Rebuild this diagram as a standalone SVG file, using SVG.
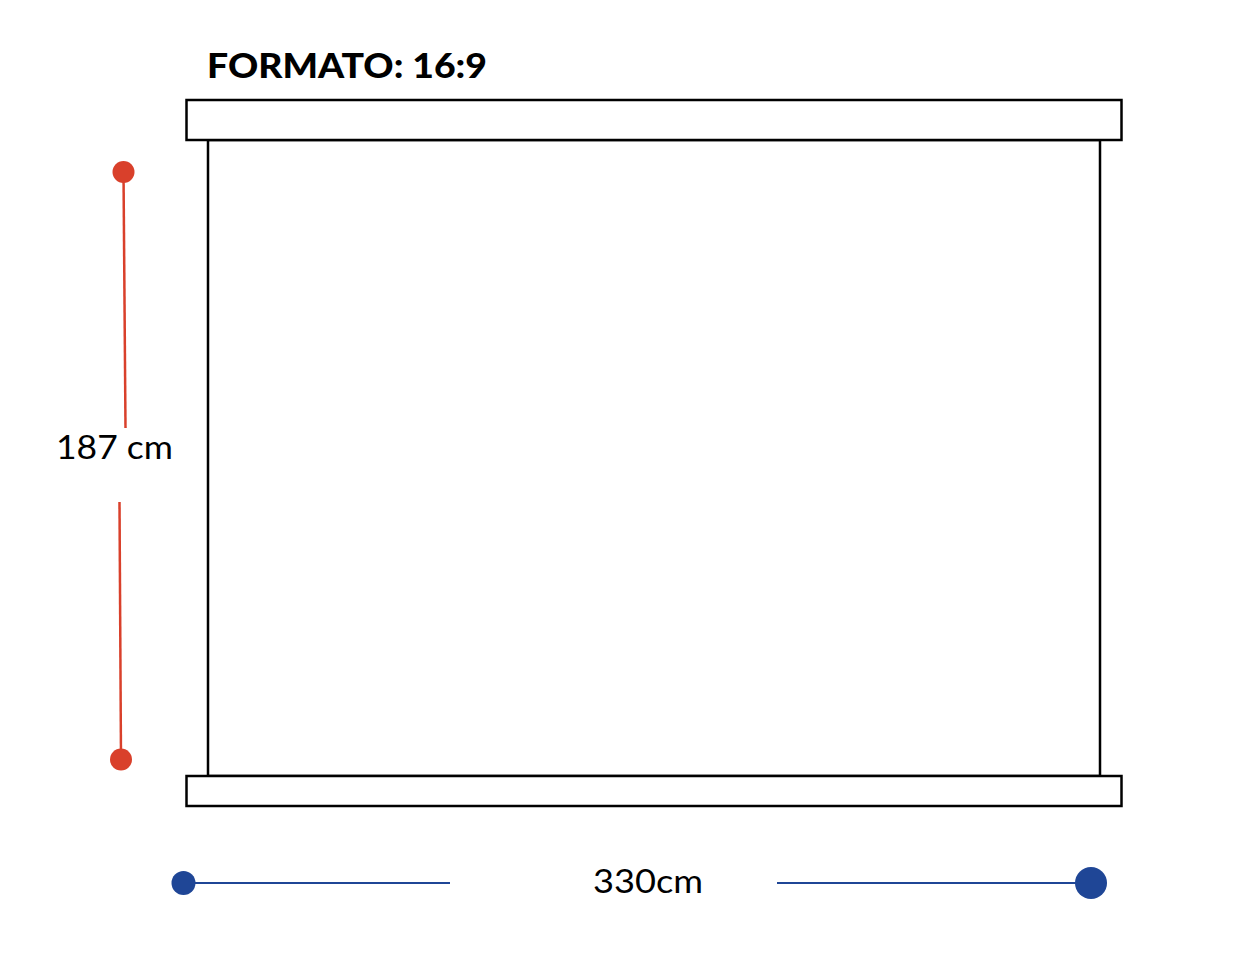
<svg xmlns="http://www.w3.org/2000/svg" width="1242" height="964" viewBox="0 0 1242 964">
<style>
.frame{fill:#fff;stroke:#000;stroke-width:2.5}
.red{stroke:#d9402b;stroke-width:2.5;fill:none}
.blue{stroke:#1f4696;stroke-width:2;fill:none}
.lbl{font-family:Lato,"Liberation Sans",sans-serif;font-size:33px;fill:#000}
.title{font-family:Lato,"Liberation Sans",sans-serif;font-size:34px;font-weight:900;fill:#000}
</style>
<rect width="1242" height="964" fill="#fff"/>
<g id="title"><text class="title" x="207" y="78" textLength="280" lengthAdjust="spacingAndGlyphs">FORMATO: 16:9</text></g>
<g id="screen">
<rect class="frame" x="208" y="140" width="892" height="636"/>
<rect class="frame" x="186.5" y="100" width="935" height="40"/>
<rect class="frame" x="186.5" y="776" width="935" height="30"/>
</g>
<g id="connectors">
<line class="red" x1="123.5" y1="172" x2="125.5" y2="428"/>
<line class="red" x1="119.5" y1="502" x2="121" y2="759"/>
<circle cx="123.5" cy="172" r="11" fill="#d9402b"/>
<circle cx="121" cy="759.5" r="11" fill="#d9402b"/>
<line class="blue" x1="190" y1="883" x2="450" y2="883"/>
<line class="blue" x1="777" y1="883" x2="1085" y2="883"/>
<circle cx="183.5" cy="883" r="12" fill="#1f4696"/>
<circle cx="1091" cy="883" r="16" fill="#1f4696"/>
</g>
<g id="label-height"><text class="lbl" x="56" y="459" textLength="117" lengthAdjust="spacingAndGlyphs">187 cm</text></g>
<g id="label-width"><text class="lbl" x="593" y="893" textLength="110" lengthAdjust="spacingAndGlyphs">330cm</text></g>
</svg>
